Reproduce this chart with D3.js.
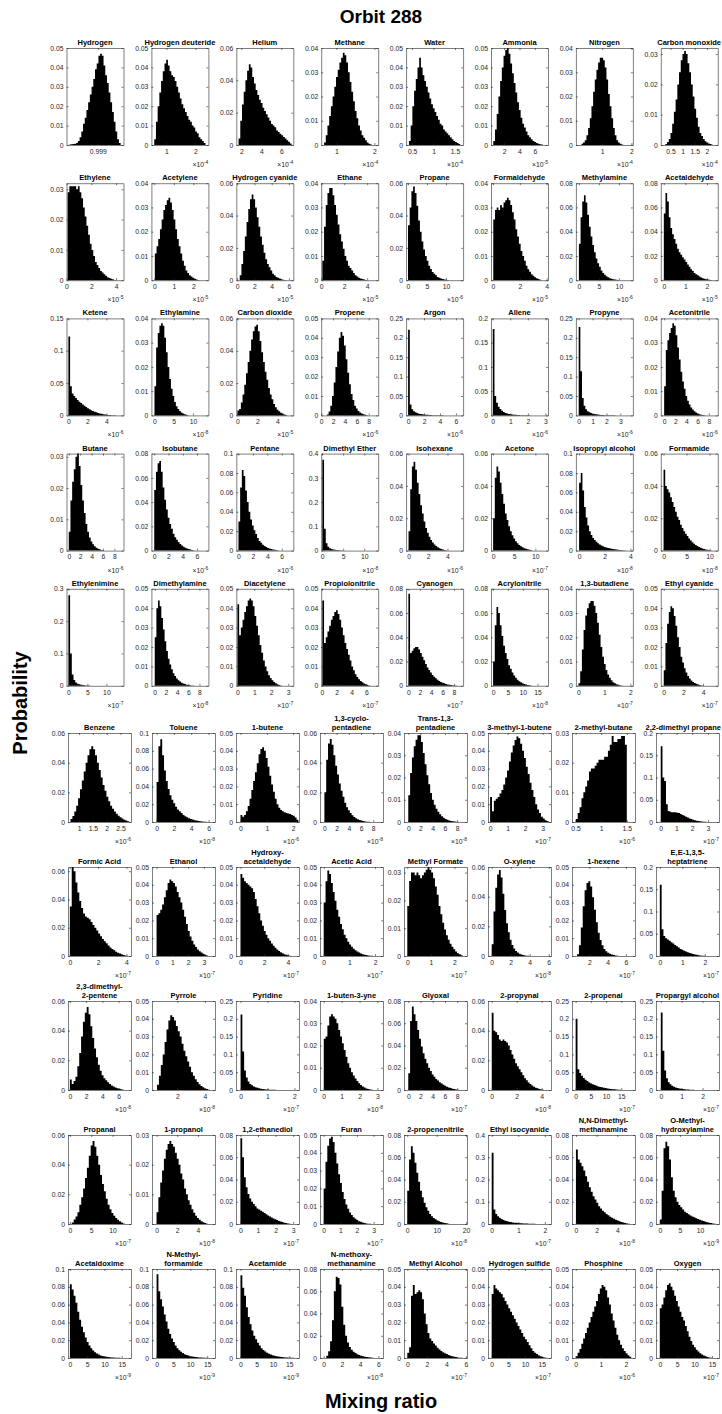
<!DOCTYPE html>
<html>
<head>
<meta charset="utf-8">
<script src="https://cdn.jsdelivr.net/npm/d3@7"></script>
<style>
  html, body { margin: 0; padding: 0; background: #fff; }
  text { font-family: "Liberation Sans", Arial, Helvetica, sans-serif; }
</style>
</head>
<body>
<script>
// Probability distributions of mixing ratios, one small histogram per species.
const figTitle = "Orbit 288";
const xLabel = "Mixing ratio";
const yLabel = "Probability";

const names = [
  "Hydrogen","Hydrogen deuteride","Helium","Methane","Water","Ammonia","Nitrogen","Carbon monoxide",
  "Ethylene","Acetylene","Hydrogen cyanide","Ethane","Propane","Formaldehyde","Methylamine","Acetaldehyde",
  "Ketene","Ethylamine","Carbon dioxide","Propene","Argon","Allene","Propyne","Acetonitrile",
  "Butane","Isobutane","Pentane","Dimethyl Ether","Isohexane","Acetone","Isopropyl alcohol","Formamide",
  "Ethylenimine","Dimethylamine","Diacetylene","Propiolonitrile","Cyanogen","Acrylonitrile","1,3-butadiene","Ethyl cyanide",
  "Benzene","Toluene","1-butene","1,3-cyclo-\npentadiene","Trans-1,3-\npentadiene","3-methyl-1-butene","2-methyl-butane","2,2-dimethyl propane",
  "Formic Acid","Ethanol","Hydroxy-\nacetaldehyde","Acetic Acid","Methyl Formate","O-xylene","1-hexene","E,E-1,3,5-\nheptatriene",
  "2,3-dimethyl-\n2-pentene","Pyrrole","Pyridine","1-buten-3-yne","Glyoxal","2-propynal","2-propenal","Propargyl alcohol",
  "Propanal","1-propanol","1,2-ethanediol","Furan","2-propenenitrile","Ethyl isocyanide","N,N-Dimethyl-\nmethanamine","O-Methyl-\nhydroxylamine",
  "Acetaldoxime","N-Methyl-\nformamide","Acetamide","N-methoxy-\nmethanamine","Methyl Alcohol","Hydrogen sulfide","Phosphine","Oxygen"
];

// x-axis limits, in units of the panel's power-of-ten multiplier
const xLimits = [
  [0.99856,0.99936],[0.48,2.45],[1.5,7.2],[0.6,2.1],[0.36,1.69],[0.3,7.7],[0.1,2.05],[0.1,2.45],
  [0,4.6],[-0.15,2.77],[-0.1,6.5],[0,4.96],[-0.5,14.5],[-0.15,4.1],[-0.75,13.5],[-0.14,2.5],
  [-0.2,5.8],[-0.8,14],[-0.1,5.6],[0,9.6],[-0.25,6.9],[-0.1,3.15],[-0.2,3.9],[-0.6,9.6],
  [-0.4,9.6],[-0.4,7.6],[-0.3,7.6],[-0.2,13.3],[-0.25,5.6],[-0.5,13],[-0.25,4.2],[-0.6,11.8],
  [-0.5,14.5],[-0.6,9.6],[-0.06,3.3],[-0.1,7.6],[-0.4,9.6],[-0.7,18.5],[-0.1,2.1],[-0.3,5.5],
  [0.6,2.88],[-0.53,6.74],[-0.17,2.22],[-0.72,9.6],[-0.7,9.6],[-0.12,3.48],[0.43,1.66],[-0.3,3.7],
  [-0.13,4.32],[-0.29,3.71],[-0.38,4.95],[-0.145,2.31],[-0.14,2.53],[-0.39,6.24],[0.1,7.0],[-0.17,2.63],
  [-0.23,7.52],[0.17,4.73],[-0.17,2.17],[-0.21,3.31],[-0.7,9.6],[-0.3,4.75],[-1.2,19.5],[-0.23,2.79],
  [-0.44,14.3],[-0.44,5.65],[-0.25,3.33],[-0.22,3.57],[-1.1,20.3],[-0.14,2.23],[-0.38,5.7],[-0.94,14.7],
  [-0.55,17.7],[-1.36,17.3],[-1.38,18],[-0.41,6.51],[-0.34,6.11],[-1.1,17.8],[-0.15,2.36],[-1.09,17]
];

const xTickValues = [
  [0.999],[1,2],[2,4,6],[1,2],[0.5,1,1.5],[2,4,6],[1,2],[0.5,1,1.5,2],
  [0,2,4],[0,1,2],[0,2,4,6],[0,2,4],[0,5,10],[0,2,4],[0,5,10],[0,1,2],
  [0,2,4],[0,5,10],[0,2,4],[0,2,4,6,8],[0,2,4,6],[0,1,2,3],[0,1,2,3],[0,2,4,6,8],
  [0,2,4,6,8],[0,2,4,6],[0,2,4,6],[0,5,10],[0,2,4],[0,5,10],[0,2,4],[0,5,10],
  [0,5,10],[0,2,4,6,8],[0,1,2,3],[0,2,4,6],[0,2,4,6,8],[0,5,10,15],[0,1,2],[0,2,4],
  [1,1.5,2,2.5],[0,2,4,6],[0,1,2],[0,2,4,6,8],[0,2,4,6,8],[0,1,2,3],[0.5,1,1.5],[0,1,2,3],
  [0,2,4],[0,1,2,3],[0,2,4],[0,1,2],[0,1,2],[0,2,4,6],[2,4,6],[0,1,2],
  [0,2,4,6],[2,4],[0,1,2],[0,1,2,3],[0,2,4,6,8],[0,2,4],[0,5,10,15],[0,1,2],
  [0,5,10],[0,2,4],[0,1,2,3],[0,1,2,3],[0,10,20],[0,1,2],[0,2,4],[0,5,10],
  [0,5,10,15],[0,5,10,15],[0,5,10,15],[0,2,4,6],[0,2,4,6],[0,5,10,15],[0,1,2],[0,5,10,15]
];

// power of ten shown under each x axis (null: plain values)
const exponents = [
  null,-4,-4,-4,-4,-5,-4,-4,
  -5,-5,-5,-5,-6,-5,-6,-5,
  -6,-8,-5,-6,-6,-6,-6,-6,
  -6,-6,-6,-8,-6,-7,-8,-8,
  -7,-8,-7,-7,-7,-8,-7,-7,
  -6,-8,-6,-8,-8,-7,-6,-7,
  -7,-7,-7,-7,-7,-8,-7,-7,
  -8,-8,-7,-8,-7,-8,-7,-7,
  -7,-8,-7,-7,-8,-7,-8,-9,
  -9,-9,-9,-8,-7,-7,-6,-7
];

const yMaxima = [
  .05,.05,.06,.04,.05,.05,.04,.032,
  .032,.04,.06,.04,.06,.04,.08,.08,
  .15,.04,.06,.05,.25,.2,.25,.04,
  .031,.08,.1,.4,.06,.06,.1,.06,
  .3,.05,.05,.05,.08,.08,.04,.05,
  .06,.1,.05,.06,.04,.05,.03,.2,
  .063,.05,.05,.05,.032,.06,.05,.2,
  .06,.05,.25,.04,.08,.06,.25,.25,
  .06,.03,.08,.05,.08,.4,.08,.08,
  .1,.1,.1,.08,.05,.05,.05,.05
];

const yTickSteps = [
  .01,.01,.02,.01,.01,.01,.01,.01,
  .01,.01,.02,.01,.02,.01,.02,.02,
  .05,.01,.02,.01,.05,.05,.05,.01,
  .01,.02,.02,.1,.02,.02,.02,.02,
  .1,.01,.01,.01,.02,.02,.01,.01,
  .02,.02,.01,.02,.01,.01,.01,.05,
  .02,.01,.01,.01,.01,.02,.01,.05,
  .02,.01,.05,.01,.02,.02,.05,.05,
  .02,.01,.02,.01,.02,.1,.02,.02,
  .02,.02,.02,.02,.01,.01,.01,.01
];

// first and last bin edge of each histogram (equal-width bins in between)
const binRanges = [
  [0.9986,0.99932],[0.578,2.35],[1.728,7.03],[0.675,1.935],[0.4265,1.6235],[0.596,7.034],[0.29,1.715],[0.288,2.262],
  [0.092,3.956],[0.025,2.303],[0.296,5.642],[0.099,3.968],[0,10.75],[0.02,3.59],[0,10.08],[0,2.236],
  [0,5.02],[0,8.97],[0.014,4.97],[0.96,7.87],[0,4.898],[0,2.24],[0,2.752],[0,7.36],
  [0,6.2],[0,5.68],[0,5.86],[0.07,8.17],[0,4.14],[0,9.625],[0,3.89],[0,10.81],
  [0,8.5],[0,7.05],[0.007,2.628],[0.054,6.52],[0,8.8],[0,13.7],[0,1.704],[0,4.108],
  [0.691,2.812],[0,6.01],[0,2.196],[0,7.74],[0,8.055],[0,3.336],[0.504,1.5],[0,2.9],
  [0,4.01],[0,3.27],[0,4.26],[0,1.917],[0,2.343],[0,3.99],[0.652,5.206],[0,2.014],
  [0,6.67],[0.535,4.365],[0,1.585],[0,2.747],[0,8.57],[0,4.19],[0,15.57],[0,2.035],
  [0.444,12.83],[0,4.98],[0,2.86],[0,2.96],[0,14.95],[0,1.92],[0,5.21],[0,13.92],
  [0,16.24],[0,16.18],[0,17.03],[0.282,5.68],[0,5.66],[0,16.67],[0,2.209],[0,15.01]
];

// bin probabilities, grouped by grid row
const countsRow1 = [
  [.0003,.0004,.0005,.0006,.001,.002,.004,.007,.011,.014,.018,.022,.026,.03,.034,.039,.042,.046,.047,.046,.041,.036,.032,.027,.022,.017,.012,.007,.003,.001],
  [.003,.012,.02,.027,.033,.038,.042,.044,.041,.038,.036,.035,.033,.03,.027,.024,.021,.019,.017,.015,.013,.012,.01,.009,.007,.006,.004,.003,.002,.001],
  [.004,.015,.025,.033,.04,.046,.05,.048,.042,.038,.034,.031,.028,.026,.023,.021,.019,.017,.015,.013,.012,.011,.009,.008,.007,.006,.005,.004,.003,.002,.001],
  [.001,.004,.008,.012,.016,.02,.024,.028,.031,.034,.036,.038,.037,.034,.03,.026,.022,.018,.014,.011,.008,.006,.004,.003,.002,.001,.0005,.0002],
  [.002,.01,.02,.028,.034,.04,.045,.04,.036,.033,.03,.027,.024,.021,.019,.017,.015,.013,.011,.01,.008,.007,.006,.005,.004,.003,.002,.0015,.001,.0005],
  [.002,.008,.016,.025,.033,.04,.046,.049,.05,.047,.042,.037,.032,.027,.022,.018,.014,.011,.009,.007,.005,.004,.003,.002,.0015,.001,.0007,.0004,.0002],
  [.0005,.001,.002,.004,.007,.011,.016,.022,.027,.031,.034,.036,.036,.035,.032,.027,.021,.016,.011,.007,.004,.002,.001,.0005,.0002],
  [.0003,.001,.002,.004,.007,.011,.015,.02,.024,.028,.03,.031,.03,.027,.024,.02,.016,.012,.009,.006,.004,.003,.002,.0012,.0008,.0005,.0003,.0001]
];
const countsRow2 = [
  [.029,.031,.031,.031,.031,.03,.031,.029,.027,.024,.021,.018,.015,.012,.01,.008,.006,.005,.004,.003,.0025,.002,.0015,.001,.0007,.0005,.0003,.0001],
  [.011,.014,.017,.021,.025,.029,.031,.033,.034,.032,.029,.025,.021,.017,.014,.011,.008,.006,.004,.003,.002,.0015,.001,.0006,.0003,.0001],
  [.003,.01,.018,.027,.036,.044,.05,.053,.05,.045,.039,.033,.027,.022,.017,.013,.01,.008,.006,.004,.003,.002,.0015,.001,.0006,.0003,.0001],
  [.008,.022,.031,.036,.038,.038,.035,.031,.027,.023,.019,.016,.013,.01,.008,.006,.005,.004,.003,.002,.0015,.001,.0007,.0005,.0003,.0001],
  [.034,.045,.055,.058,.054,.046,.037,.03,.024,.019,.015,.012,.009,.007,.005,.004,.003,.002,.0015,.001,.0007,.0005,.0003,.0001],
  [.025,.029,.03,.029,.031,.03,.032,.033,.034,.033,.031,.028,.025,.021,.018,.015,.012,.01,.008,.006,.0045,.0035,.0025,.0018,.0012,.0008,.0005,.0002],
  [.03,.052,.065,.07,.064,.054,.044,.036,.029,.023,.018,.014,.011,.008,.006,.0045,.0033,.0024,.0017,.0012,.0008,.0005,.0003,.0001],
  [.055,.072,.065,.052,.043,.038,.034,.03,.026,.023,.021,.019,.017,.015,.013,.011,.009,.0075,.006,.005,.004,.003,.0022,.0016,.0011,.0008,.0005,.0003,.0001]
];
const countsRow3 = [
  [.122,.045,.034,.03,.027,.024,.021,.019,.017,.015,.013,.011,.0095,.008,.0068,.0057,.0047,.0038,.003,.0024,.0019,.0015,.0011,.0008,.0006,.0004,.0002,.0001],
  [.012,.028,.034,.037,.038,.037,.032,.026,.02,.015,.011,.008,.0055,.0038,.0026,.0018,.0012,.0008,.0005,.0003,.0001],
  [.003,.004,.008,.013,.019,.026,.033,.04,.047,.052,.055,.056,.052,.046,.039,.033,.027,.022,.017,.013,.01,.007,.005,.0035,.0025,.0017,.0011,.0006,.0003],
  [.0005,.002,.005,.01,.017,.025,.033,.04,.043,.041,.036,.029,.022,.016,.011,.008,.005,.0035,.0023,.0015,.001,.0006,.0003,.0001],
  [.221,.028,.016,.011,.008,.006,.0045,.0035,.0028,.0022,.0018,.0014,.0011,.0009,.0007,.0005,.0004,.0003,.0002,.00015,.0001,.00005,.00003],
  [.178,.04,.026,.018,.013,.0095,.007,.0052,.004,.003,.0023,.0018,.0014,.0011,.0008,.0006,.0005,.0004,.0003,.0002,.00015,.0001,.00005],
  [.228,.114,.045,.025,.016,.011,.008,.006,.0045,.0035,.0027,.0021,.0016,.0012,.0009,.0007,.0005,.0004,.0003,.0002,.00015,.0001,.00005],
  [.012,.027,.031,.034,.036,.038,.037,.033,.028,.023,.018,.014,.011,.008,.006,.0045,.0033,.0024,.0017,.0012,.0008,.0005,.0003,.0002,.0001]
];
const countsRow4 = [
  [.006,.016,.022,.026,.03,.031,.027,.021,.016,.012,.0085,.006,.0042,.0029,.002,.0014,.0009,.0006,.0004,.0002,.0001],
  [.05,.065,.072,.074,.065,.052,.042,.034,.027,.022,.018,.014,.011,.009,.007,.0055,.0042,.0032,.0024,.0018,.0013,.0009,.0005,.0002],
  [.03,.065,.083,.077,.062,.05,.04,.032,.026,.021,.017,.013,.01,.008,.006,.0047,.0036,.0028,.0021,.0016,.0012,.0008,.0005,.0003,.0001],
  [.375,.09,.03,.016,.01,.0068,.0048,.0035,.0026,.002,.0015,.0011,.0008,.0006,.0004,.0003,.0002,.00015,.0001,.00005],
  [.012,.038,.052,.055,.05,.042,.035,.028,.023,.018,.014,.011,.0085,.0065,.005,.0038,.0029,.0021,.0015,.001,.0007,.0004,.0002,.0001],
  [.02,.045,.052,.049,.042,.035,.029,.023,.019,.015,.012,.0095,.0075,.0058,.0045,.0035,.0027,.002,.0015,.0011,.0008,.0005,.0003,.0001],
  [.07,.08,.062,.045,.034,.026,.02,.016,.013,.011,.009,.0075,.0063,.0053,.0045,.0038,.0032,.0027,.0023,.0019,.0016,.0013,.0011,.0009,.0007,.0005,.0004,.0003,.0002,.0001],
  [.05,.04,.038,.036,.033,.03,.027,.024,.021,.019,.016,.014,.012,.0105,.009,.0075,.0063,.0052,.0043,.0035,.0028,.0022,.0017,.0013,.001,.0007,.0005,.0003,.0002,.0001]
];
const countsRow5 = [
  [.28,.1,.035,.018,.01,.0065,.0045,.0032,.0024,.0018,.0013,.001,.0007,.0005,.0004,.0003,.0002,.0001,.00005],
  [.025,.04,.044,.041,.035,.029,.023,.018,.014,.011,.0085,.0065,.005,.0038,.0029,.0022,.0016,.0012,.0009,.0006,.0004,.0003,.0002,.0001],
  [.042,.026,.03,.034,.038,.041,.044,.045,.044,.041,.036,.031,.026,.021,.017,.013,.01,.0075,.0055,.004,.0028,.002,.0013,.0008,.0004,.0002],
  [.044,.022,.025,.028,.031,.034,.036,.038,.039,.037,.034,.03,.026,.022,.019,.016,.013,.01,.008,.006,.0045,.0034,.0025,.0018,.0012,.0008,.0004,.0002],
  [.076,.027,.029,.031,.032,.032,.03,.027,.024,.021,.018,.015,.013,.011,.009,.0075,.0062,.005,.004,.0032,.0025,.002,.0015,.0011,.0008,.0006,.0004,.0003,.0002,.0001],
  [.02,.05,.065,.06,.05,.041,.033,.027,.022,.017,.014,.011,.0085,.0066,.005,.0038,.0029,.0021,.0015,.001,.0007,.0004,.0002,.0001],
  [.001,.006,.015,.023,.029,.032,.034,.035,.035,.033,.03,.026,.021,.016,.012,.009,.0065,.0047,.0033,.0023,.0015,.001,.0006,.0004,.0002,.0001],
  [.008,.022,.032,.038,.041,.04,.036,.031,.025,.02,.015,.012,.009,.0068,.005,.0037,.0027,.002,.0014,.001,.0007,.0004,.0002,.0001]
];
const countsRow6 = [
  [.002,.004,.007,.011,.016,.022,.028,.034,.04,.045,.049,.051,.049,.045,.04,.035,.03,.025,.021,.017,.014,.011,.009,.007,.0055,.0042,.0032,.0023,.0016,.001,.0005],
  [.045,.085,.093,.075,.058,.046,.037,.03,.025,.021,.017,.014,.012,.01,.008,.0065,.0053,.0042,.0034,.0027,.0021,.0016,.0012,.0009,.0006,.0004,.0002,.0001],
  [.004,.003,.004,.006,.009,.013,.018,.023,.028,.033,.038,.041,.042,.04,.036,.031,.026,.021,.017,.013,.01,.008,.0068,.006,.0055,.005,.0048,.0045,.004,.0035,.0025,.0012],
  [.02,.042,.053,.056,.052,.045,.038,.032,.026,.021,.017,.013,.01,.008,.006,.0045,.0034,.0025,.0018,.0013,.0009,.0006,.0004,.0002,.0001,.00005],
  [.012,.022,.029,.034,.037,.039,.039,.036,.031,.026,.021,.017,.013,.01,.0078,.006,.0046,.0035,.0026,.0019,.0014,.001,.0007,.0005,.0003,.0002,.0001],
  [.014,.006,.012,.013,.014,.016,.018,.021,.025,.029,.034,.039,.043,.046,.048,.047,.044,.04,.036,.031,.027,.022,.018,.014,.01,.007,.005,.003,.002,.001,.0005],
  [.001,.003,.005,.008,.01,.012,.014,.017,.018,.018,.019,.02,.021,.021,.021,.022,.022,.024,.026,.029,.027,.027,.028,.028,.029,.029,.026],
  [.17,.1,.092,.04,.025,.023,.022,.022,.022,.021,.02,.018,.016,.014,.012,.01,.008,.0065,.005,.004,.003,.0022,.0016,.001,.0006,.0003]
];
const countsRow7 = [
  [.035,.063,.06,.052,.045,.039,.034,.03,.028,.027,.026,.024,.022,.02,.018,.016,.014,.012,.0105,.009,.0075,.006,.005,.004,.003,.0023,.0017,.0012,.0007,.0003],
  [.023,.024,.026,.029,.033,.037,.041,.043,.042,.041,.039,.036,.033,.03,.026,.022,.018,.014,.011,.0085,.0065,.005,.0037,.0027,.0019,.0012,.0007,.0003],
  [.046,.044,.042,.041,.04,.039,.038,.036,.032,.028,.024,.02,.017,.014,.012,.01,.0085,.007,.0057,.0046,.0036,.0028,.0021,.0015,.001,.0007,.0004,.0002],
  [.03,.042,.048,.046,.041,.036,.031,.026,.022,.018,.015,.012,.01,.008,.0065,.0052,.0041,.0032,.0025,.0019,.0014,.001,.0007,.0005,.0003,.0002,.0001],
  [.018,.027,.03,.03,.029,.03,.029,.028,.029,.03,.031,.032,.031,.03,.028,.025,.022,.018,.015,.012,.0095,.0075,.0058,.0044,.0033,.0024,.0016,.001,.0006,.0003],
  [.008,.03,.046,.055,.058,.053,.042,.031,.022,.016,.011,.0075,.005,.0034,.0023,.0015,.001,.0006,.0004,.0002,.0001],
  [.001,.006,.016,.028,.037,.041,.042,.039,.033,.026,.019,.013,.009,.006,.004,.0027,.0018,.0012,.0008,.0005,.0003,.0001],
  [.16,.06,.045,.04,.037,.034,.031,.028,.025,.022,.019,.016,.014,.012,.01,.0085,.007,.0057,.0045,.0035,.0026,.0018,.0012,.0007,.0003]
];
const countsRow8 = [
  [.007,.004,.006,.009,.016,.025,.036,.046,.052,.056,.051,.043,.035,.028,.022,.017,.013,.01,.008,.0065,.0052,.004,.003,.0023,.0017,.0012,.0008,.0005,.0002],
  [.003,.008,.014,.02,.027,.034,.039,.042,.041,.039,.036,.033,.03,.026,.022,.019,.016,.013,.01,.008,.006,.0045,.0033,.0023,.0015,.0009,.0005,.0002],
  [.212,.108,.055,.035,.024,.017,.013,.01,.0078,.006,.0047,.0037,.0029,.0022,.0017,.0013,.001,.0007,.0005,.0004,.0003,.0002,.0001,.00005],
  [.023,.024,.029,.033,.034,.033,.032,.03,.027,.024,.021,.018,.015,.012,.01,.008,.0065,.0052,.004,.003,.0022,.0016,.0011,.0007,.0004,.0002,.0001],
  [.015,.062,.075,.068,.062,.054,.046,.039,.033,.028,.024,.02,.017,.014,.012,.01,.0085,.007,.0058,.0047,.0038,.003,.0023,.0017,.0012,.0008,.0005,.0003,.0001],
  [.052,.04,.039,.037,.034,.033,.034,.033,.032,.03,.027,.024,.021,.018,.016,.014,.012,.01,.008,.0065,.005,.004,.003,.0022,.0016,.0011,.0007,.0004,.0002],
  [.2,.058,.048,.04,.034,.029,.025,.021,.018,.016,.014,.012,.01,.0087,.0075,.0064,.0054,.0045,.0037,.003,.0024,.0018,.0013,.0009,.0005,.0002],
  [.218,.11,.055,.033,.022,.016,.012,.009,.007,.0055,.0043,.0034,.0027,.0021,.0016,.0012,.0009,.0007,.0005,.0003,.0002,.0001,.00005,.00003]
];
const countsRow9 = [
  [.001,.003,.005,.008,.013,.018,.024,.031,.038,.046,.053,.056,.052,.046,.04,.033,.027,.022,.017,.013,.01,.0075,.0055,.004,.0028,.0018,.001,.0004],
  [.004,.009,.014,.018,.022,.025,.027,.028,.027,.026,.024,.022,.02,.017,.015,.012,.01,.008,.0065,.005,.0038,.0028,.002,.0014,.0009,.0006,.0003,.0001],
  [.077,.06,.042,.033,.027,.023,.02,.018,.016,.014,.013,.012,.011,.01,.0088,.0077,.0067,.0058,.005,.0042,.0035,.0028,.0022,.0017,.0012,.0008,.0005,.0002],
  [.02,.035,.044,.048,.049,.046,.04,.034,.028,.023,.018,.014,.011,.0085,.0065,.005,.0038,.0029,.0022,.0016,.0012,.0008,.0005,.0003,.0002,.0001,.00005],
  [.03,.058,.07,.064,.055,.046,.038,.03,.024,.019,.015,.012,.009,.007,.0055,.0042,.0032,.0024,.0018,.0013,.0009,.0006,.0003,.0001],
  [.32,.065,.045,.035,.028,.022,.018,.015,.012,.01,.0085,.0072,.0061,.0052,.0044,.0037,.0031,.0026,.0021,.0017,.0014,.0011,.0008,.0006,.0004,.0003,.0002,.0001],
  [.067,.058,.055,.052,.048,.043,.038,.033,.029,.025,.022,.019,.016,.014,.012,.0105,.009,.0078,.0066,.0056,.0047,.0039,.0031,.0024,.0018,.0013,.0008,.0004,.0002],
  [.004,.03,.068,.074,.07,.058,.042,.03,.024,.02,.017,.015,.013,.011,.0098,.0087,.0077,.0068,.006,.0052,.0045,.0038,.0032,.0026,.0021,.0016,.0012,.0008,.0005,.0002]
];
const countsRow10 = [
  [.083,.077,.07,.062,.052,.043,.035,.029,.023,.018,.014,.011,.0085,.0066,.005,.0038,.0029,.0022,.0017,.0013,.001,.0008,.0006,.0005,.0004,.0003,.0002,.0001,.0001,.00005],
  [.094,.075,.066,.058,.049,.041,.033,.027,.022,.018,.014,.011,.0088,.007,.0055,.0043,.0034,.0027,.0021,.0017,.0013,.001,.0008,.0006,.0005,.0004,.0003,.0002,.0001,.00005],
  [.093,.079,.07,.057,.046,.038,.031,.025,.021,.017,.014,.011,.009,.0073,.006,.0049,.004,.0032,.0026,.0021,.0017,.0014,.0011,.0009,.0007,.0005,.0004,.0003,.0002,.0001],
  [.002,.006,.015,.034,.06,.073,.072,.066,.046,.03,.02,.014,.01,.0075,.0057,.0044,.0034,.0026,.002,.0015,.0011,.0008,.0006,.0004,.0002,.0001],
  [.003,.006,.035,.041,.036,.037,.038,.037,.033,.025,.019,.014,.011,.0095,.0082,.007,.0058,.0048,.004,.0033,.0027,.0022,.0017,.0013,.001,.0007,.0005,.0003,.0002,.0001],
  [.036,.041,.039,.038,.037,.036,.034,.032,.03,.028,.026,.024,.022,.02,.018,.016,.014,.012,.0105,.009,.0072,.0055,.004,.003,.0022,.0015,.001,.0006,.0003,.0001],
  [.001,.003,.005,.008,.011,.014,.017,.02,.023,.026,.029,.032,.036,.039,.041,.04,.038,.034,.03,.025,.021,.017,.013,.01,.0075,.0055,.004,.0027,.0016,.0007],
  [.028,.03,.034,.038,.041,.042,.04,.038,.035,.032,.029,.026,.023,.021,.018,.015,.012,.0095,.0075,.006,.0047,.0036,.0027,.002,.0014,.001,.0006,.0003,.0001]
];
const counts = [].concat(countsRow1, countsRow2, countsRow3, countsRow4, countsRow5,
                         countsRow6, countsRow7, countsRow8, countsRow9, countsRow10);

// ---------------------------------------------------------------- layout
const W = 722, H = 1414;
const AX = "#262626";
const fmt = v => String(+v.toFixed(4));

function panelBox(i) {
  const r = Math.floor(i / 8), c = i % 8;
  if (r < 5) return { x: 66.5 + 84.9 * c, y: 48 + 135.2 * r, w: 57, h: 97 };
  return { x: 68 + 84 * c, y: 733 + 134 * (r - 5), w: 63, h: 89 };
}

const svg = d3.select("body").append("svg")
  .attr("width", W).attr("height", H)
  .attr("viewBox", `0 0 ${W} ${H}`);
svg.append("rect").attr("width", W).attr("height", H).attr("fill", "#fff");

names.forEach((name, i) => {
  const b = panelBox(i);
  const g = svg.append("g").attr("transform", `translate(${b.x},${b.y})`);
  const x = d3.scaleLinear().domain(xLimits[i]).range([0, b.w]);
  const y = d3.scaleLinear().domain([0, yMaxima[i]]).range([b.h, 0]);

  // histogram as one stepped outline
  const vals = counts[i];
  const [lo, hi] = binRanges[i];
  const step = (hi - lo) / vals.length;
  const pts = vals.map((v, k) => [lo + k * step, v]);
  pts.push([hi, vals[vals.length - 1]]);
  const area = d3.area()
    .x(d => x(d[0])).y0(y(0)).y1(d => y(d[1]))
    .curve(d3.curveStepAfter);
  g.append("path").attr("d", area(pts)).attr("fill", "#000");

  // y ticks
  const yt = [];
  for (let k = 0; k * yTickSteps[i] <= yMaxima[i] + 1e-9; k++) yt.push(+(k * yTickSteps[i]).toFixed(4));

  const styleAxis = sel => {
    sel.selectAll(".domain").attr("stroke", AX).attr("stroke-width", 0.6);
    sel.selectAll(".tick line").attr("stroke", AX).attr("stroke-width", 0.6);
    sel.selectAll(".tick text").attr("fill", AX).attr("font-size", 6.8)
      .attr("font-family", '"Liberation Sans", Arial, sans-serif');
  };

  g.append("g").attr("transform", `translate(0,${b.h})`)
    .call(d3.axisBottom(x).tickValues(xTickValues[i]).tickFormat(fmt)
      .tickSizeInner(-2).tickSizeOuter(0).tickPadding(4))
    .call(styleAxis);
  g.append("g")
    .call(d3.axisTop(x).tickValues(xTickValues[i]).tickFormat("")
      .tickSizeInner(-2).tickSizeOuter(0))
    .call(styleAxis);
  g.append("g")
    .call(d3.axisLeft(y).tickValues(yt).tickFormat(fmt)
      .tickSizeInner(-2).tickSizeOuter(0).tickPadding(3))
    .call(styleAxis);
  g.append("g").attr("transform", `translate(${b.w},0)`)
    .call(d3.axisRight(y).tickValues(yt).tickFormat("")
      .tickSizeInner(-2).tickSizeOuter(0))
    .call(styleAxis);
  g.selectAll(".tick text").filter(function () { return this.textContent === ""; }).remove();

  // multiplier under the x axis
  if (exponents[i] !== null) {
    const t = g.append("text")
      .attr("x", b.w).attr("y", b.h + 22)
      .attr("text-anchor", "end").attr("fill", AX).attr("font-size", 6.8);
    t.append("tspan").text("\u00d710");
    t.append("tspan").attr("dy", -3).attr("font-size", 5).text(String(exponents[i]));
  }

  // panel title (one or two lines), kept inside the page
  const lines = name.split("\n");
  lines.forEach((ln, k) => {
    const t = g.append("text")
      .attr("x", b.w / 2)
      .attr("y", -3 - (lines.length - 1 - k) * 9)
      .attr("text-anchor", "middle")
      .attr("font-size", 7.5).attr("font-weight", "bold").attr("fill", "#000")
      .text(ln);
    const len = t.node().getComputedTextLength();
    const rightEdge = b.x + b.w / 2 + len / 2;
    if (rightEdge > W - 1) t.attr("x", b.w / 2 - (rightEdge - (W - 1)));
  });
});

// figure labels
svg.append("text").attr("x", 381).attr("y", 23)
  .attr("text-anchor", "middle").attr("font-size", 19).attr("font-weight", "bold")
  .text(figTitle);
svg.append("text").attr("x", 381).attr("y", 1408)
  .attr("text-anchor", "middle").attr("font-size", 20).attr("font-weight", "bold")
  .text(xLabel);
svg.append("text").attr("transform", "translate(27,703) rotate(-90)")
  .attr("text-anchor", "middle").attr("font-size", 20).attr("font-weight", "bold")
  .text(yLabel);
</script>
</body>
</html>
